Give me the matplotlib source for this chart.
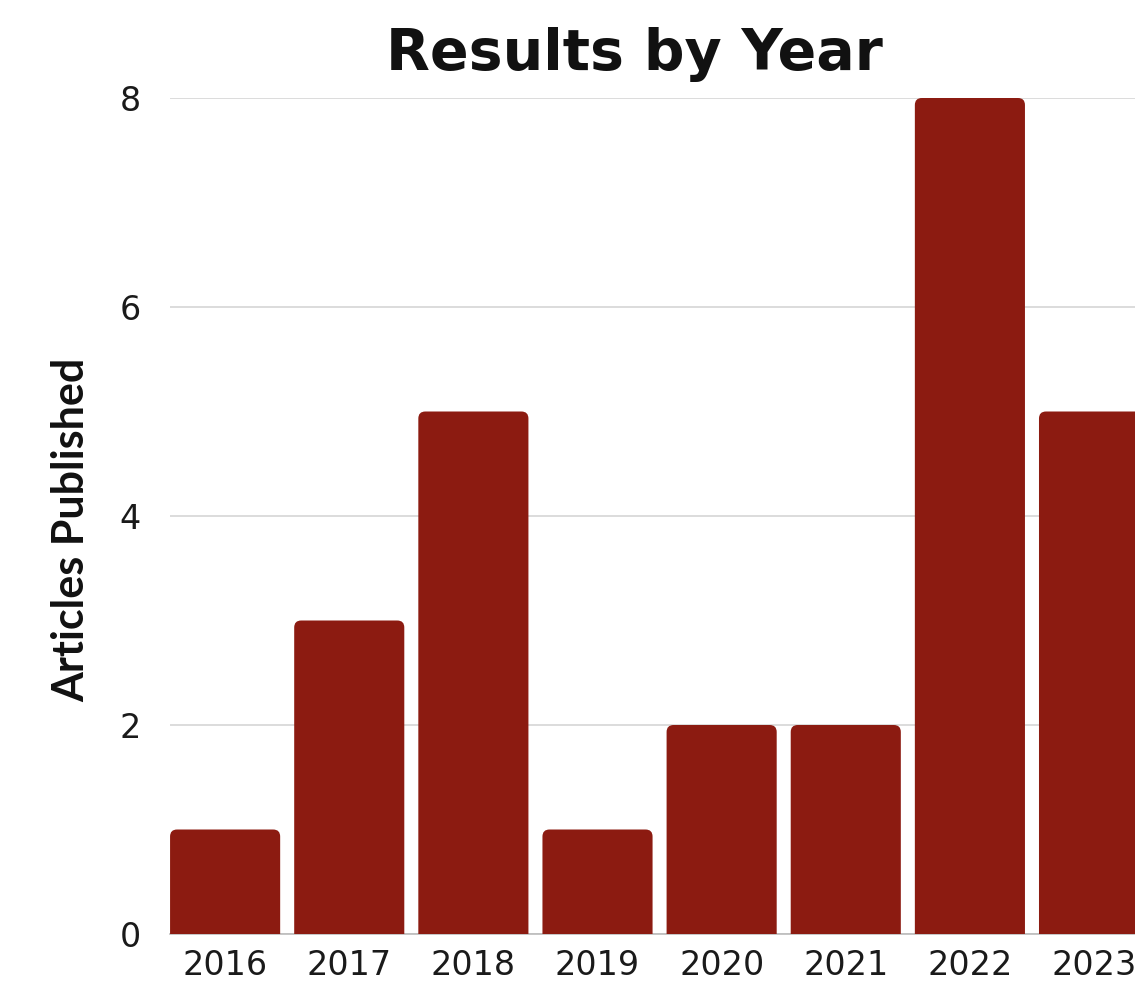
import matplotlib
matplotlib.use("Agg")
import matplotlib.pyplot as plt
from matplotlib.patches import FancyBboxPatch

years = ["2016", "2017", "2018", "2019", "2020", "2021", "2022", "2023"]
articles = [1, 3, 5, 1, 2, 2, 8, 5]

BAR_COLOR = "#8C1B11"
W, H = 1135, 989
fig = plt.figure(figsize=(W / 100, H / 100), dpi=100)
left, right, bottom, top = 170, 1135, 934, 98
ax = fig.add_axes([left / W, 1 - bottom / H, (right - left) / W, (bottom - top) / H])

ax.set_xlim(-0.444, 7.33)
ax.set_ylim(0, 8)

bw = 0.887
px_x = 1 / 124.0
px_y = 8 / 836.0
r = 7 * px_x
for i, v in enumerate(articles):
    p = FancyBboxPatch((i - bw / 2, -0.3), bw, v + 0.3,
                       boxstyle=f"round,pad=0,rounding_size={r}",
                       mutation_aspect=px_y / px_x,
                       facecolor=BAR_COLOR, edgecolor="none", zorder=3)
    ax.add_patch(p)

ax.set_yticks([0, 2, 4, 6, 8])
ax.set_xticks(range(len(years)))
ax.set_xticklabels(years)
ax.grid(axis="y", color="#d9d9d9", linewidth=1.3, zorder=0)
for s in ["top", "right", "left"]:
    ax.spines[s].set_visible(False)
ax.spines["bottom"].set_color("#bbbbbb")
ax.spines["bottom"].set_linewidth(1.2)
ax.spines["bottom"].set_zorder(2)
ax.tick_params(axis="both", length=0, labelsize=24, colors="#1a1a1a")
ax.tick_params(axis="y", pad=21)
ax.tick_params(axis="x", pad=11)
for lab in ax.get_xticklabels() + ax.get_yticklabels():
    lab.set_fontfamily("DejaVu Sans")

fig.text(634 / W, 1 - 54 / H, "Results by Year", ha="center", va="center",
         fontsize=41, fontweight="bold", family="DejaVu Sans", color="#111111")
fig.text(71 / W, 1 - 530 / H, "Articles Published", ha="center", va="center",
         rotation=90, fontsize=31, fontweight="bold", family="Lato", color="#111111")

fig.savefig("out.png", dpi=100)
